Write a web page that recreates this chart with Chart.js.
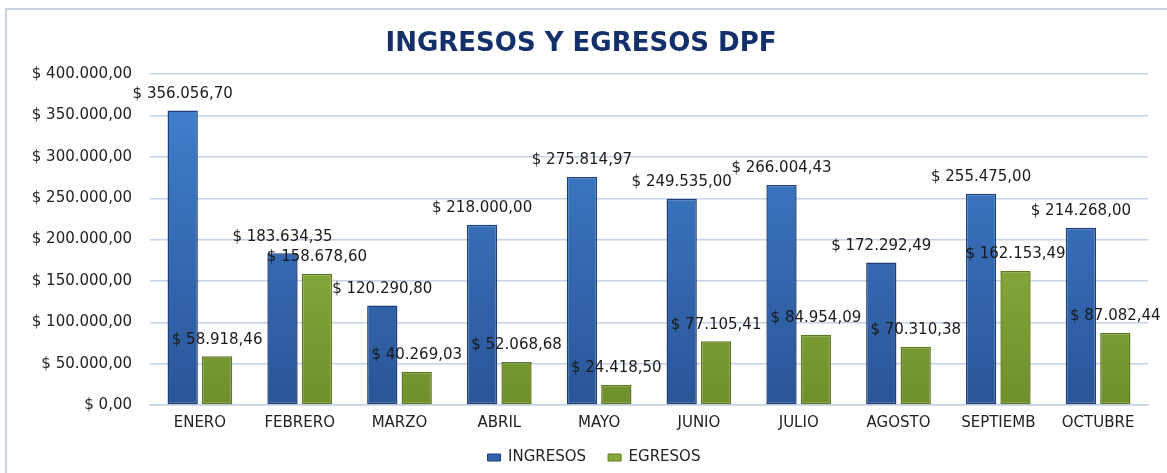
<!DOCTYPE html>
<html>
<head>
    <title>Ingresos y Egresos DPF</title>
    <script src="https://cdn.jsdelivr.net/npm/chart.js"></script>
    <style>
        body { margin: 0; background: #fff; }
    </style>
</head>
<body>
    <canvas id="chart" width="1167" height="473"></canvas>

    <script>
    // data
    const meses = ['ENERO', 'FEBRERO', 'MARZO', 'ABRIL', 'MAYO', 'JUNIO', 'JULIO', 'AGOSTO', 'SEPTIEMB', 'OCTUBRE'];
    const ingresos = [356056.70, 183634.35, 120290.80, 218000.00, 275814.97, 249535.00, 266004.43, 172292.49, 255475.00, 214268.00];
    const egresos = [58918.46, 158678.60, 40269.03, 52068.68, 24418.50, 77105.41, 84954.09, 70310.38, 162153.49, 87082.44];
    const yMax = 400000;
    const yStep = 50000;

    const FONT = '"DejaVu Sans", sans-serif';

    // "$ 356.056,70" style
    function money(v) {
        const parts = v.toFixed(2).split('.');
        const ent = parts[0].replace(/\B(?=(\d{3})+(?!\d))/g, '.');
        return '$ ' + ent + ',' + parts[1];
    }

    function barGradient(top, bottom) {
        return function(ctx) {
            const area = ctx.chart.chartArea;
            if (!area) return top;
            const el = ctx.element;
            const y0 = el && el.y !== undefined ? el.y : area.top;
            const y1 = el && el.base !== undefined ? el.base : area.bottom;
            if (!isFinite(y0) || !isFinite(y1) || y0 === y1) return top;
            const g = ctx.chart.ctx.createLinearGradient(0, y0, 0, y1);
            g.addColorStop(0, top);
            g.addColorStop(1, bottom);
            return g;
        };
    }

    // frame + value labels
    const extras = {
        id: 'extras',
        beforeDraw(chart) {
            // wider gap between legend items, without a taller legend box
            const lg = chart.legend;
            if (lg && !lg._spaced) {
                const extra = 13;
                lg.options.labels.padding += extra;
                lg.top -= extra;
                lg.bottom -= extra;
                lg._spaced = true;
            }
            const c = chart.ctx;
            c.save();
            c.strokeStyle = '#c9d3e6';
            c.lineWidth = 2;
            c.strokeRect(6, 9, 1170, 480);
            c.restore();
        },
        afterDatasetsDraw(chart) {
            const c = chart.ctx;
            c.save();
            c.font = '15px ' + FONT;
            c.fillStyle = '#1a1a1a';
            c.textAlign = 'center';
            c.textBaseline = 'bottom';
            chart.data.datasets.forEach((ds, i) => {
                chart.getDatasetMeta(i).data.forEach((bar, j) => {
                    c.fillText(money(ds.data[j]), bar.x, bar.y - 9);
                });
            });
            c.restore();
        }
    };

    new Chart(document.getElementById('chart').getContext('2d'), {
        type: 'bar',
        data: {
            labels: meses,
            datasets: [{
                label: 'INGRESOS',
                data: ingresos,
                backgroundColor: barGradient('#4282d2', '#2a5597'),
                borderColor: '#1d3f78',
                borderWidth: 1.5,
                borderSkipped: false,
                categoryPercentage: 0.69,
                barPercentage: 0.88
            }, {
                label: 'EGRESOS',
                data: egresos,
                backgroundColor: barGradient('#9fc44c', '#6f8f2c'),
                borderColor: '#5c7a22',
                borderWidth: 1.5,
                borderSkipped: false,
                categoryPercentage: 0.69,
                barPercentage: 0.88
            }]
        },
        options: {
            responsive: false,
            animation: false,
            layout: { padding: { left: 14, right: 19, top: 0, bottom: -2 } },
            scales: {
                x: {
                    grid: { display: false, drawTicks: false },
                    border: { display: true, color: '#c5d1e5', width: 1.5 },
                    ticks: { color: '#222', font: { family: FONT, size: 15 }, padding: 9, maxRotation: 0 }
                },
                y: {
                    min: 0,
                    max: yMax,
                    afterFit(axis) { axis.width = 136; },
                    grid: { color: '#c5d1e5', lineWidth: 1.5, drawTicks: false },
                    border: { display: false },
                    ticks: {
                        stepSize: yStep,
                        padding: 18,
                        color: '#222',
                        font: { family: FONT, size: 15 },
                        callback: v => money(v)
                    }
                }
            },
            plugins: {
                title: {
                    display: true,
                    text: 'INGRESOS Y EGRESOS DPF',
                    color: '#13306b',
                    font: { family: FONT, size: 26, weight: 'bold' },
                    padding: { top: 29, bottom: 14 }
                },
                legend: {
                    position: 'bottom',
                    labels: {
                        color: '#222',
                        font: { family: FONT, size: 15 },
                        boxWidth: 13,
                        boxHeight: 7,
                        padding: 9,
                        generateLabels(chart) {
                            const fills = [['#2f63ad', '#1d3f78'], ['#86aa3a', '#5c7a22']];
                            return chart.data.datasets.map((ds, i) => ({
                                text: ds.label,
                                fillStyle: fills[i][0],
                                strokeStyle: fills[i][1],
                                lineWidth: 1,
                                fontColor: '#222',
                                datasetIndex: i
                            }));
                        }
                    }
                },
                tooltip: { enabled: false }
            }
        },
        plugins: [extras]
    });
    </script>
</body>
</html>
